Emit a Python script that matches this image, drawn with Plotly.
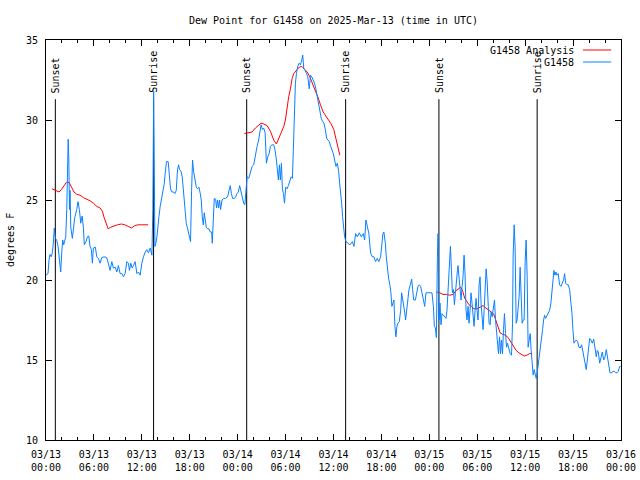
import pandas as pd
import plotly.graph_objects as go

START = pd.Timestamp("2025-03-13 00:00")
END = pd.Timestamp("2025-03-16 00:00")

# G1458 observations: hours since 2025-03-13 00:00 UTC, dew point (F)
blue_hours = [
    0.00, 0.25, 0.38, 0.50, 0.66, 0.79, 0.92, 1.04, 1.17, 1.34, 1.51, 1.67, 1.84, 1.97,
    2.09, 2.22, 2.35, 2.47, 2.60, 2.67, 2.78, 2.86, 2.94, 3.01, 3.10, 3.30, 3.42, 3.60,
    3.85, 4.01, 4.18, 4.35, 4.52, 4.68, 4.80, 5.02, 5.18, 5.36, 5.52, 5.68, 5.81, 5.93,
    6.18, 6.36, 6.56, 6.77, 6.99, 7.28, 7.61, 7.81, 8.03, 8.24, 8.44, 8.66, 8.87, 9.07,
    9.28, 9.50, 9.70, 9.91, 10.12, 10.32, 10.45, 10.62, 10.79, 10.95, 11.16, 11.38, 11.58,
    11.79, 12.00, 12.21, 12.42, 12.63, 12.83, 13.05, 13.26, 13.38, 13.48, 13.64, 13.76,
    13.89, 14.01, 14.14, 14.30, 14.46, 14.64, 14.80, 14.93, 15.09, 15.30, 15.43, 15.59,
    15.77, 15.97, 16.14, 16.31, 16.47, 16.60, 16.72, 16.90, 17.06, 17.19, 17.31, 17.44,
    17.56, 17.69, 17.85, 17.98, 18.10, 18.23, 18.35, 18.48, 18.65, 18.82, 18.98, 19.15,
    19.32, 19.44, 19.57, 19.69, 19.82, 19.94, 20.07, 20.23, 20.41, 20.57, 20.74, 20.82,
    20.95, 21.07, 21.24, 21.36, 21.49, 21.61, 21.74, 21.86, 22.04, 22.24, 22.49, 22.74,
    22.92, 23.08, 23.21, 23.37, 23.58, 23.75, 23.92, 24.08, 24.25, 24.37, 24.53, 24.75,
    24.90, 25.05, 25.18, 25.39, 25.60, 25.81, 26.01, 26.22, 26.43, 26.63, 26.76, 26.93,
    27.10, 27.26, 27.44, 27.60, 27.77, 27.94, 28.10, 28.31, 28.52, 28.69, 28.85, 28.98,
    29.10, 29.23, 29.35, 29.48, 29.60, 29.73, 29.86, 30.02, 30.19, 30.35, 30.52, 30.70,
    30.86, 30.94, 31.02, 31.11, 31.23, 31.36, 31.52, 31.70, 31.86, 32.03, 32.15, 32.28,
    32.45, 32.62, 32.78, 32.96, 33.12, 33.28, 33.46, 33.62, 33.79, 33.97, 34.13, 34.30,
    34.47, 34.64, 34.80, 34.98, 35.14, 35.30, 35.48, 35.64, 35.81, 35.98, 36.14, 36.31,
    36.48, 36.64, 36.77, 36.89, 37.02, 37.14, 37.27, 37.39, 37.56, 37.81, 38.06, 38.36,
    38.56, 38.77, 38.98, 39.23, 39.48, 39.73, 39.90, 40.06, 40.23, 40.43, 40.64, 40.86,
    41.06, 41.27, 41.48, 41.68, 41.90, 42.02, 42.19, 42.31, 42.49, 42.61, 42.74, 42.90,
    43.06, 43.19, 43.31, 43.44, 43.57, 43.69, 43.82, 43.94, 44.07, 44.24, 44.41, 44.53,
    44.66, 44.78, 44.91, 45.03, 45.16, 45.32, 45.45, 45.62, 45.79, 45.91, 46.04, 46.25,
    46.41, 46.58, 46.75, 46.91, 47.08, 47.25, 47.42, 47.58, 47.83, 48.08, 48.33, 48.51,
    48.63, 48.76, 48.88, 49.01, 49.09, 49.21, 49.34, 49.46, 49.59, 49.76, 49.93, 50.09,
    50.21, 50.34, 50.51, 50.64, 50.77, 50.89, 51.02, 51.14, 51.27, 51.39, 51.52, 51.59,
    51.72, 51.84, 51.97, 52.10, 52.22, 52.35, 52.47, 52.60, 52.72, 52.85, 52.97, 53.10,
    53.22, 53.35, 53.48, 53.60, 53.73, 53.85, 53.98, 54.10, 54.23, 54.35, 54.48, 54.60,
    54.73, 54.86, 54.98, 55.11, 55.23, 55.36, 55.48, 55.61, 55.73, 55.86, 56.03, 56.16,
    56.29, 56.41, 56.54, 56.66, 56.79, 56.91, 57.04, 57.16, 57.29, 57.41, 57.54, 57.67,
    57.79, 57.95, 58.12, 58.29, 58.42, 58.49, 58.62, 58.74, 58.87, 58.99, 59.12, 59.24,
    59.37, 59.50, 59.62, 59.75, 59.87, 60.00, 60.12, 60.25, 60.37, 60.50, 60.63, 60.75,
    60.88, 61.00, 61.13, 61.25, 61.38, 61.51, 61.68, 61.84, 62.01, 62.18, 62.31, 62.43,
    62.56, 62.72, 62.88, 63.06, 63.22, 63.35, 63.47, 63.60, 63.72, 63.85, 63.97, 64.14,
    64.31, 64.48, 64.64, 64.81, 64.94, 65.07, 65.23, 65.39, 65.57, 65.73, 65.86, 65.98,
    66.11, 66.23, 66.40, 66.57, 66.73, 66.90, 67.07, 67.24, 67.40, 67.53, 67.65, 67.78,
    67.90, 68.08, 68.24, 68.40, 68.58, 68.74, 68.91, 69.03, 69.16, 69.33, 69.49, 69.66,
    69.83, 70.00, 70.16, 70.33, 70.50, 70.62, 70.84, 71.00, 71.16, 71.34, 71.50, 71.66,
    71.84, 71.96,
]
blue_values = [
    20.3, 20.4, 21.25, 21.6, 21.45, 21.7, 22.3, 23.25, 22.6, 22.5, 22.1, 21.15, 20.5, 21.7,
    22.5, 22.2, 22.6, 22.7, 24.4, 26.7, 28.8, 27.5, 24.4, 25.6, 23.3, 22.6, 23.3, 23.9,
    24.4, 24.9, 24.4, 23.55, 24.0, 23.3, 22.2, 22.4, 22.7, 22.75, 22.1, 21.9, 21.05, 22.0,
    22.05, 21.45, 21.35, 21.05, 21.4, 21.45, 21.4, 21.05, 20.6, 21.15, 20.75, 20.8, 20.5, 20.9,
    20.4, 20.4, 20.2, 20.4, 21.15, 21.05, 20.6, 21.05, 20.75, 20.9, 21.15, 20.4, 20.5,
    20.3, 21.05, 21.45, 21.75, 21.9, 21.7, 22.0, 21.55, 24.4, 31.8, 22.1, 22.3,
    22.7, 23.5, 23.95, 24.6, 25.0, 25.4, 26.0, 26.7, 27.4, 27.4, 26.45, 25.7,
    25.5, 25.5, 25.4, 25.6, 26.9, 27.2, 26.9, 26.8, 26.45, 25.6, 24.7, 23.95,
    23.55, 23.3, 23.0, 22.7, 22.4, 25.6, 27.5, 26.8, 26.25, 25.8, 25.7, 25.8,
    25.4, 25.0, 23.95, 23.45, 24.2, 23.75, 23.3, 23.2, 23.2, 23.0, 23.0, 22.3,
    23.75, 25.1, 25.05, 24.5, 25.0, 24.5, 25.0, 24.4, 25.0, 25.1, 25.1, 25.2,
    25.6, 25.9, 25.4, 25.1, 25.1, 25.2, 25.4, 25.5, 25.9, 25.6, 25.2, 24.8,
    24.7, 25.8, 26.45, 26.35, 26.7, 27.1, 27.2, 27.9, 28.35, 28.75, 29.3, 29.7,
    29.4, 29.5, 29.2, 27.3, 27.7, 27.9, 28.35, 28.45, 28.45, 28.1, 27.5, 26.9,
    26.25, 27.2, 26.25, 27.3, 25.7, 25.4, 24.8, 25.8, 25.7, 25.9, 26.25, 26.45,
    26.35, 27.7, 29.8, 31.25, 32.3, 32.9, 33.35, 33.55, 33.45, 33.75, 34.05, 33.2,
    33.1, 32.9, 32.7, 31.95, 32.8, 32.7, 32.5, 32.3, 31.95, 31.45, 31.15, 30.7,
    30.1, 29.9, 29.8, 29.4, 28.85, 28.75, 28.65, 28.35, 28.1, 27.9, 27.5, 27.1,
    27.3, 26.8, 26.05, 25.6, 24.8, 23.95, 23.3, 22.7, 22.4, 22.3, 22.2, 22.4,
    22.1, 22.9, 22.7, 22.95, 22.7, 22.9, 22.5, 23.75, 23.3, 22.9, 21.7, 21.45,
    21.45, 21.15, 21.35, 21.15, 21.45, 22.3, 22.9, 23.0, 22.3, 21.45, 20.6, 20.1,
    19.7, 19.2, 18.35, 18.65, 18.75, 17.1, 16.45, 17.1, 17.3, 17.4, 18.1, 19.2,
    18.85, 18.35, 18.0, 17.5, 18.1, 18.95, 19.4, 19.7, 20.05, 19.4, 18.75, 18.75,
    19.3, 19.6, 19.7, 19.6, 19.2, 18.75, 18.35, 19.2, 19.2, 19.2, 19.2, 18.35,
    17.1, 17.0, 16.4, 21.45, 22.9, 17.5, 18.55, 17.2, 17.9, 17.8, 17.7, 17.6,
    18.1, 19.3, 21.25, 22.1, 20.6, 19.2, 19.4, 18.45, 19.2, 20.2, 20.6, 20.9,
    20.0, 19.3, 18.75, 19.6, 20.2, 21.55, 20.4, 18.1, 17.5, 18.35, 17.3, 18.1,
    19.2, 18.55, 17.7, 17.1, 18.1, 18.85, 18.1, 17.5, 19.7, 20.2, 18.55, 17.5,
    16.9, 18.1, 20.0, 20.7, 20.0, 18.35, 17.3, 17.2, 18.0, 17.7, 18.35, 18.75,
    17.5, 16.9, 16.05, 15.4, 16.45, 15.4, 16.25, 15.4, 16.9, 17.9, 16.65, 15.8,
    16.05, 15.75, 15.4, 15.3, 17.3, 21.45, 23.45, 22.1, 17.3, 17.5, 18.1, 18.95,
    20.8, 19.4, 17.3, 17.5, 17.5, 21.15, 22.5, 20.2, 15.8, 16.25, 16.65, 15.6,
    14.4, 14.05, 14.4, 14.2, 13.85, 14.2, 14.8, 15.4, 16.15, 16.9, 17.5, 17.8,
    17.6, 17.8, 17.9, 18.1, 18.55, 19.2, 20.0, 20.6, 20.3, 20.5, 20.3, 20.4,
    19.7, 19.6, 19.8, 20.0, 20.4, 19.8, 19.7, 19.7, 19.4, 18.75, 17.9, 16.9,
    16.05, 16.15, 16.25, 16.15, 15.8, 15.75, 15.95, 15.5, 15.1, 14.8, 14.4, 15.0,
    15.5, 16.35, 16.25, 16.05, 16.3, 15.75, 15.2, 15.6, 15.5, 14.8, 15.2, 15.5,
    15.0, 15.2, 15.65, 15.0, 14.6, 14.2, 14.2, 14.3, 14.3, 14.2, 14.2, 14.3,
    14.6, 14.6,
]

# G1458 Analysis: three separate periods (None = gap)
red_hours = [
    0.75, 1.00, 1.25, 1.63, 1.92, 2.26, 2.55, 2.89, 3.17, 3.51, 3.85, 4.26, 4.68, 5.11,
    5.52, 5.93, 6.36, 6.77, 7.06, 7.28, 7.53, 7.78, 8.12, 8.53, 8.94, 9.45, 9.87, 10.29,
    10.70, 11.13, 11.54, 11.95, 12.38, 12.79,
    None,
    24.84, 25.25, 25.80, 26.22, 26.63, 26.93, 27.26, 27.69, 28.10, 28.51, 28.85, 29.14,
    29.44, 29.77, 29.98, 30.19, 30.39, 30.61, 30.82, 31.02, 31.36, 31.70, 32.03, 32.36,
    32.70, 33.03, 33.37, 33.71, 34.03, 34.37, 34.71, 35.04, 35.37, 35.71, 36.04, 36.29,
    36.47, 36.63, 36.79,
    None,
    48.88, 49.30, 49.71, 50.14, 50.55, 50.97, 51.27, 51.59, 51.93, 52.18, 52.43, 52.72,
    52.97, 53.27, 53.60, 53.98, 54.35, 54.73, 55.07, 55.36, 55.70, 56.03, 56.32, 56.61,
    56.86, 57.20, 57.54, 57.87, 58.20, 58.54, 58.87, 59.21, 59.55, 59.87, 60.21, 60.55,
    60.88,
]
red_values = [
    25.7, 25.65, 25.6, 25.5, 25.65, 25.9, 26.1, 26.1, 25.85, 25.5, 25.35, 25.3, 25.15, 25.05,
    24.95, 24.8, 24.6, 24.5, 24.3, 23.9, 23.55, 23.2, 23.3, 23.4, 23.45, 23.5, 23.45, 23.35,
    23.25, 23.4, 23.45, 23.45, 23.45, 23.45,
    None,
    29.15, 29.2, 29.25, 29.5, 29.7, 29.8, 29.75, 29.65, 29.3, 28.75, 28.5, 28.85,
    29.15, 29.6, 30.0, 30.85, 31.45, 31.95, 32.6, 32.9, 33.1, 33.3, 33.35, 33.2,
    33.0, 32.7, 32.3, 31.9, 31.45, 30.95, 30.5, 30.25, 30.0, 29.75, 29.4, 28.85,
    28.45, 28.1, 27.8,
    None,
    19.25, 19.2, 19.1, 19.1, 19.05, 19.1, 19.3, 19.45, 19.55, 19.3, 18.85, 18.65,
    18.45, 18.35, 18.2, 18.2, 18.3, 18.4, 18.25, 18.15, 18.05, 17.9, 17.5, 17.1,
    16.7, 16.6, 16.55, 16.4, 16.15, 15.9, 15.6, 15.45, 15.35, 15.25, 15.3, 15.4,
    15.4,
]

sun_hours = [1.17, 13.47, 25.13, 37.52, 49.20, 61.50]
sun_labels = ["Sunset", "Sunrise", "Sunset", "Sunrise", "Sunset", "Sunrise"]

series_names = ["G1458 Analysis", "G1458"]
series_colors = ["#ff0000", "#0a80ff"]

TITLE = "Dew Point for G1458 on 2025-Mar-13 (time in UTC)"
Y_TITLE = "degrees F"
Y_RANGE = [10, 35]
SUN_LINE_TOP = 31.3
FONT = "DejaVu Sans Mono"


def to_time(hours):
    return [None if h is None else START + pd.Timedelta(hours=h) for h in hours]


fig = go.Figure()
fig.add_trace(go.Scatter(x=to_time(red_hours), y=red_values, mode="lines",
                         line=dict(color=series_colors[0], width=1),
                         name=series_names[0], connectgaps=False, showlegend=False))
fig.add_trace(go.Scatter(x=to_time(blue_hours), y=blue_values, mode="lines",
                         line=dict(color=series_colors[1], width=1),
                         name=series_names[1], showlegend=False))

for h, lab in zip(sun_hours, sun_labels):
    t = START + pd.Timedelta(hours=h)
    fig.add_shape(type="line", xref="x", yref="y", x0=t, x1=t, y0=Y_RANGE[0], y1=SUN_LINE_TOP,
                  line=dict(color="black", width=1), layer="below")
    fig.add_annotation(x=t, y=SUN_LINE_TOP + 0.25, xref="x", yref="y", text=lab, textangle=-90,
                       showarrow=False, xanchor="center", yanchor="bottom",
                       font=dict(family=FONT, size=10, color="black"))

# legend drawn at top right: text right-aligned, line sample to its right
leg_y = [0.975, 0.945]
for name, color, ly in zip(series_names, series_colors, leg_y):
    fig.add_annotation(x=0.922, y=ly, xref="paper", yref="paper", text=name, showarrow=False,
                       xanchor="right", yanchor="middle", font=dict(family=FONT, size=10, color="black"))
    fig.add_shape(type="line", xref="paper", yref="paper", x0=0.934, x1=0.983, y0=ly, y1=ly,
                  line=dict(color=color, width=1))

fig.add_annotation(x=-0.0626, y=0.5, xref="paper", yref="paper", text=Y_TITLE, textangle=-90,
                   showarrow=False, xanchor="center", yanchor="middle",
                   font=dict(family=FONT, size=10, color="black"))

fig.update_layout(
    width=640, height=480,
    margin=dict(l=46, r=19, t=40, b=40, autoexpand=False),
    paper_bgcolor="white", plot_bgcolor="white",
    font=dict(family=FONT, size=10, color="black"),
    title=dict(text=TITLE, x=0.5, xref="paper", xanchor="center",
               y=1 - 20 / 480, yref="container", yanchor="middle",
               font=dict(family=FONT, size=10, color="black")),
    showlegend=False,
)
fig.update_xaxes(type="date", range=[START, END], tick0=START, dtick=6 * 3600 * 1000,
                 tickformat="%m/%d<br>%H:%M", ticks="inside", ticklen=6, tickcolor="black",
                 ticklabelstandoff=5, automargin=False,
                 showline=True, linecolor="black", linewidth=1, mirror="ticks",
                 showgrid=False, zeroline=False,
                 minor=dict(dtick=2 * 3600 * 1000, ticks="inside", ticklen=3, tickcolor="black",
                            showgrid=False))
fig.update_yaxes(range=Y_RANGE, dtick=5, ticks="inside", ticklen=6, tickcolor="black",
                 ticklabelstandoff=5, automargin=False,
                 showline=True, linecolor="black", linewidth=1, mirror="ticks",
                 showgrid=False, zeroline=False)

fig.write_html("out.html", config={"displayModeBar": False},
               post_script="document.body.style.margin='0';document.body.style.padding='0';")
